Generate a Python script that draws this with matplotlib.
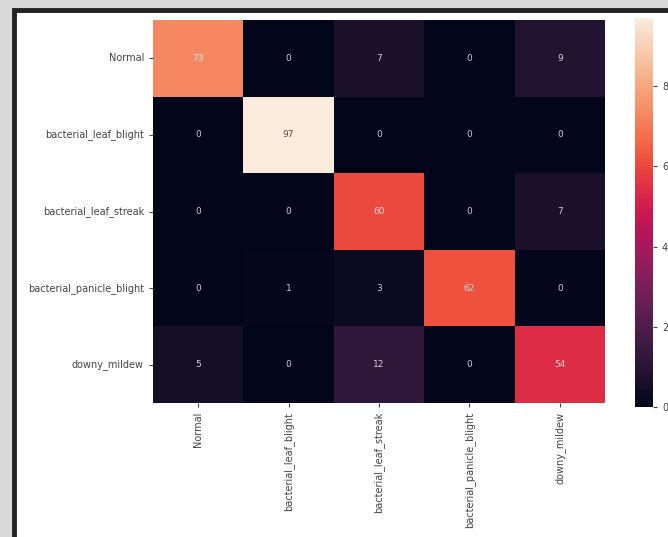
import matplotlib
matplotlib.use('Agg')
import matplotlib.pyplot as plt
import seaborn as sns
import numpy as np
from matplotlib.patches import Rectangle

# klasy i macierz pomyłek
klasy = ['Normal', 'bacterial_leaf_blight', 'bacterial_leaf_streak',
         'bacterial_panicle_blight', 'downy_mildew']
wiersz_normal = [73, 0, 7, 0, 9]
wiersz_blight = [0, 97, 0, 0, 0]
wiersz_streak = [0, 0, 60, 0, 7]
wiersz_panicle = [0, 1, 3, 62, 0]
wiersz_mildew = [5, 0, 12, 0, 54]

cm = np.array([wiersz_normal, wiersz_blight, wiersz_streak,
               wiersz_panicle, wiersz_mildew])

fig = plt.figure(figsize=(6.68, 5.37), dpi=100)
fig.patch.set_facecolor('#d9d9d9')

# biała ramka zrzutu ekranu z czarną obwódką (pod osiami)
ramka = Rectangle((14 / 668, -0.05), 1.1, 1 - 10 / 537 + 0.05,
                  transform=fig.transFigure, facecolor='white',
                  edgecolor='#222222', linewidth=3.5, zorder=-10)
fig.patches.append(ramka)

ax = fig.add_axes([153 / 668, 1 - 403 / 537, 452 / 668, 383 / 537])
cax = fig.add_axes([635 / 668, 1 - 407 / 537, 18 / 668, 389 / 537])

sns.heatmap(cm, annot=True, fmt='d', cmap='rocket', vmin=0, vmax=97,
            ax=ax, cbar_ax=cax, annot_kws={'fontsize': 6.5, 'alpha': 0.8},
            xticklabels=klasy, yticklabels=klasy)

ax.tick_params(axis='both', labelsize=7, colors='#444444', length=3)
plt.setp(ax.get_xticklabels(), rotation=90)
plt.setp(ax.get_yticklabels(), rotation=0)
cax.tick_params(labelsize=7, colors='#444444', length=3)
cax.set_yticks([0, 20, 40, 60, 80])

fig.savefig('out.png', dpi=100, facecolor=fig.get_facecolor())
